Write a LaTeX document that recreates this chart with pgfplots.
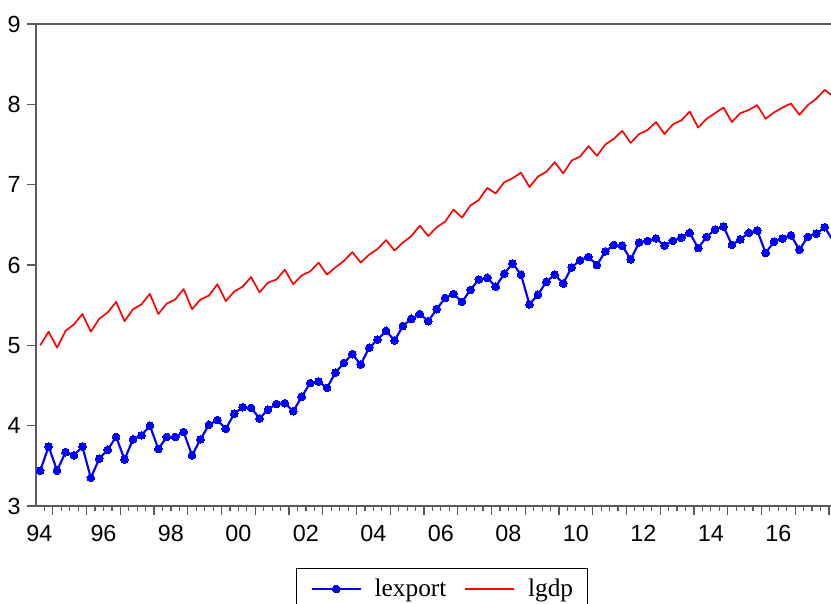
\documentclass[border=0pt]{standalone}
\usepackage{fontspec}
\setmainfont{Liberation Sans}
\newfontfamily\legfont{Liberation Serif}
\usepackage{pgfplots}
\usepackage{pgfplotstable}
\pgfplotsset{compat=1.18}
\definecolor{axgray}{RGB}{90,90,90}

\pgfplotstableread{
t lexport lgdp
0 3.44 5.00
1 3.74 5.17
2 3.44 4.97
3 3.67 5.18
4 3.63 5.26
5 3.74 5.39
6 3.35 5.17
7 3.59 5.33
8 3.70 5.41
9 3.86 5.54
10 3.58 5.30
11 3.83 5.45
12 3.88 5.51
13 4.00 5.64
14 3.71 5.39
15 3.86 5.52
16 3.86 5.57
17 3.92 5.70
18 3.63 5.45
19 3.83 5.57
20 4.01 5.62
21 4.07 5.76
22 3.96 5.55
23 4.15 5.67
24 4.23 5.73
25 4.22 5.85
26 4.09 5.66
27 4.20 5.78
28 4.27 5.82
29 4.28 5.94
30 4.18 5.76
31 4.36 5.87
32 4.53 5.92
33 4.55 6.03
34 4.47 5.88
35 4.66 5.97
36 4.78 6.05
37 4.89 6.16
38 4.76 6.03
39 4.97 6.13
40 5.07 6.20
41 5.18 6.31
42 5.06 6.18
43 5.24 6.28
44 5.33 6.36
45 5.39 6.49
46 5.30 6.36
47 5.45 6.47
48 5.59 6.54
49 5.64 6.69
50 5.54 6.59
51 5.69 6.74
52 5.82 6.81
53 5.84 6.96
54 5.73 6.89
55 5.89 7.03
56 6.02 7.08
57 5.88 7.15
58 5.51 6.97
59 5.63 7.10
60 5.79 7.16
61 5.88 7.28
62 5.77 7.14
63 5.97 7.30
64 6.06 7.35
65 6.10 7.48
66 6.00 7.36
67 6.17 7.50
68 6.25 7.57
69 6.24 7.67
70 6.07 7.52
71 6.28 7.63
72 6.30 7.68
73 6.33 7.78
74 6.24 7.63
75 6.30 7.75
76 6.34 7.80
77 6.40 7.91
78 6.21 7.71
79 6.35 7.82
80 6.44 7.89
81 6.48 7.96
82 6.25 7.78
83 6.32 7.89
84 6.40 7.93
85 6.43 7.99
86 6.15 7.82
87 6.29 7.90
88 6.33 7.96
89 6.37 8.01
90 6.19 7.87
91 6.35 7.99
92 6.39 8.07
93 6.47 8.18
94 6.30 8.10
}\datatab

\begin{document}
\begin{tikzpicture}
\begin{axis}[
  name=main,
  scale only axis,
  width=596.25pt, height=361.5pt,
  xmin=-0.5, xmax=93.75, ymin=3, ymax=9,
  axis x line*=bottom, axis y line*=left,
  axis line style={axgray, line width=1pt},
  tick align=outside,
  ytick={3,4,5,6,7,8,9},
  xtick={1.5,5.5,...,93.5}, xticklabels={},
  minor xtick={0.5,1.5,...,93.5},
  extra x ticks={-0.1,7.5,15.5,23.5,31.5,39.5,47.5,55.5,63.5,71.5,79.5,87.5},
  extra x tick labels={94,96,98,00,02,04,06,08,10,12,14,16},
  extra x tick style={major tick length=0pt, xticklabel style={yshift=-11pt}},
  major tick length=7pt, minor tick length=4pt,
  tick style={axgray, line width=0.9pt},
  tick label style={font=\fontsize{17.5}{20}\selectfont},
  yticklabel style={xshift=-1pt},
  /pgf/number format/assume math mode=true,
  clip marker paths=true,
  legend columns=2,
  legend style={at={(0.327,-0.1286)}, anchor=north west, draw=black, line width=0.8pt,
    font=\fontsize{19}{22}\legfont, inner xsep=10.5pt, inner ysep=8pt,
    nodes={inner sep=0pt},
    /tikz/every odd column/.append style={column sep=9.75pt},
    /tikz/every even column/.append style={column sep=13.5pt}},
  legend image code/.code={\draw[mark repeat=2,mark phase=2,#1] plot coordinates {(0pt,0pt) (18.4pt,0pt) (36.75pt,0pt)};},
]
\addplot[blue, line width=1.6pt, line join=round, mark=*, mark size=2.9pt,
  mark options={solid, fill=blue, draw=blue, line width=0pt}] table[x=t,y=lexport]{\datatab};
\addlegendentry{lexport}
\addplot[red, line width=1.25pt, line join=round, no marks] table[x=t,y=lgdp]{\datatab};
\addlegendentry{lgdp}
\end{axis}
\draw[axgray, line width=1pt] (main.north west) -- (main.north east);
\pgfresetboundingbox
\path[use as bounding box] ([xshift=-27pt,yshift=-73.5pt]main.south west) rectangle ([yshift=18pt]main.north east);
\end{tikzpicture}
\end{document}
